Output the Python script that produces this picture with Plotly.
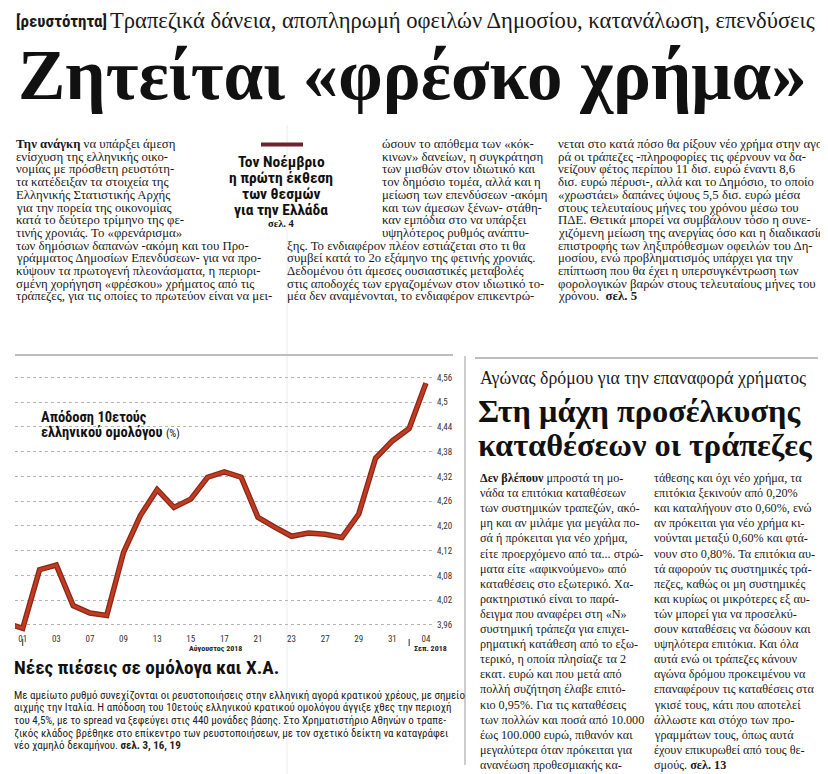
import plotly.graph_objects as go

W, H = 828, 774
OFF = 8  # the page body margin shifts the figure by this many pixels

# ---------------- chart data ----------------
dates = ["31/07", "01/08", "02/08", "03/08", "06/08", "07/08", "08/08", "09/08", "10/08",
         "13/08", "14/08", "15/08", "16/08", "17/08", "20/08", "21/08", "22/08", "23/08",
         "24/08", "27/08", "28/08", "29/08", "30/08", "31/08", "03/09", "04/09"]
yield_10y = [3.965, 3.952, 4.094, 4.105, 4.007, 3.989, 3.983, 4.136, 4.225,
             4.288, 4.245, 4.265, 4.318, 4.331, 4.318, 4.221, 4.197, 4.175,
             4.183, 4.180, 4.172, 4.229, 4.364, 4.406, 4.436, 4.546]
x_tick_dates = ["01/08", "03/08", "07/08", "09/08", "13/08", "15/08", "17/08", "21/08",
                "23/08", "27/08", "29/08", "31/08", "04/09"]
x_tick_labels = ["01", "03", "07", "09", "13", "15", "17", "21", "23", "27", "29", "31", "04"]
y_tick_values = [3.96, 4.02, 4.08, 4.14, 4.20, 4.26, 4.32, 4.38, 4.44, 4.50, 4.56]
y_tick_labels = ["3,96", "4,02", "4,08", "4,12", "4,20", "4,26", "4,32", "4,38", "4,44", "4,5", "4,56"]
month_start_dates = ["01/08", "03/09"]

chart_title = ["<b>Απόδοση 10ετούς</b>", "<b>ελληνικού ομολόγου</b> <span style='font-size:11px'>(%)</span>"]

# ---------------- page texts ----------------
kicker_tag = "[ρευστότητα]"
kicker_text = "Τραπεζικά δάνεια, αποπληρωμή οφειλών Δημοσίου, κατανάλωση, επενδύσεις"
headline = "Ζητείται «φρέσκο χρήμα»"

col1_upper = ["<b>Την ανάγκη</b> να υπάρξει άμεση",
              "ενίσχυση της ελληνικής οικο-",
              "νομίας με πρόσθετη ρευστότη-",
              "τα κατέδειξαν τα στοιχεία της",
              "Ελληνικής Στατιστικής Αρχής",
              "για την πορεία της οικονομίας",
              "κατά το δεύτερο τρίμηνο της φε-",
              "τινής χρονιάς. Το «φρενάρισμα»"]
col1_wide = ["των δημόσιων δαπανών -ακόμη και του Προ-",
             "γράμματος Δημοσίων Επενδύσεων- για να προ-",
             "κύψουν τα πρωτογενή πλεονάσματα, η περιορι-",
             "σμένη χορήγηση «φρέσκου» χρήματος από τις",
             "τράπεζες, για τις οποίες το πρωτεύον είναι να μει-"]
col2_upper = ["ώσουν το απόθεμα των «κόκ-",
              "κινων» δανείων, η συγκράτηση",
              "των μισθών στον ιδιωτικό και",
              "τον δημόσιο τομέα, αλλά και η",
              "μείωση των επενδύσεων -ακόμη",
              "και των άμεσων ξένων- στάθη-",
              "καν εμπόδια στο να υπάρξει",
              "υψηλότερος ρυθμός ανάπτυ-"]
col2_wide = ["ξης. Το ενδιαφέρον πλέον εστιάζεται στο τι θα",
             "συμβεί κατά το 2ο εξάμηνο της φετινής χρονιάς.",
             "Δεδομένου ότι άμεσες ουσιαστικές μεταβολές",
             "στις αποδοχές των εργαζομένων στον ιδιωτικό το-",
             "μέα δεν αναμένονται, το ενδιαφέρον επικεντρώ-"]
col3 = ["νεται στο κατά πόσο θα ρίξουν νέο χρήμα στην αγο-",
        "ρά οι τράπεζες -πληροφορίες τις φέρνουν να δα-",
        "νείζουν φέτος περίπου 11 δισ. ευρώ έναντι 8,6",
        "δισ. ευρώ πέρυσι-, αλλά και το Δημόσιο, το οποίο",
        "«χρωστάει» δαπάνες ύψους 5,5 δισ. ευρώ μέσα",
        "στους τελευταίους μήνες του χρόνου μέσω του",
        "ΠΔΕ. Θετικά μπορεί να συμβάλουν τόσο η συνε-",
        "χιζόμενη μείωση της ανεργίας όσο και η διαδικασία",
        "επιστροφής των ληξιπρόθεσμων οφειλών του Δη-",
        "μοσίου, ενώ προβληματισμός υπάρχει για την",
        "επίπτωση που θα έχει η υπερσυγκέντρωση των",
        "φορολογικών βαρών στους τελευταίους μήνες του",
        "χρόνου.  <b>σελ. 5</b>"]
box_lines = ["Τον Νοέμβριο", "η πρώτη έκθεση", "των θεσμών", "για την Ελλάδα"]
box_ref = "σελ. 4"

right_kicker = "Αγώνας δρόμου για την επαναφορά χρήματος"
right_head = ["Στη μάχη προσέλκυσης", "καταθέσεων οι τράπεζες"]
right_colA = ["<b>Δεν βλέπουν</b> μπροστά τη μο-",
              "νάδα τα επιτόκια καταθέσεων",
              "των συστημικών τραπεζών, ακό-",
              "μη και αν μιλάμε για μεγάλα πο-",
              "σά ή πρόκειται για νέο χρήμα,",
              "είτε προερχόμενο από τα... στρώ-",
              "ματα είτε «αφικνούμενο» από",
              "καταθέσεις στο εξωτερικό. Χα-",
              "ρακτηριστικό είναι το παρά-",
              "δειγμα που αναφέρει στη «Ν»",
              "συστημική τράπεζα για επιχει-",
              "ρηματική κατάθεση από το εξω-",
              "τερικό, η οποία πλησίαζε τα 2",
              "εκατ. ευρώ και που μετά από",
              "πολλή συζήτηση έλαβε επιτό-",
              "κιο 0,95%. Για τις καταθέσεις",
              "των πολλών και ποσά από 10.000",
              "έως 100.000 ευρώ, πιθανόν και",
              "μεγαλύτερα όταν πρόκειται για",
              "ανανέωση προθεσμιακής κα-"]
right_colB = ["τάθεσης και όχι νέο χρήμα, τα",
              "επιτόκια ξεκινούν από 0,20%",
              "και καταλήγουν στο 0,60%, ενώ",
              "αν πρόκειται για νέο χρήμα κι-",
              "νούνται μεταξύ 0,60% και φτά-",
              "νουν στο 0,80%. Τα επιτόκια αυ-",
              "τά αφορούν τις συστημικές τρά-",
              "πεζες, καθώς οι μη συστημικές",
              "και κυρίως οι μικρότερες εξ αυ-",
              "τών μπορεί για να προσελκύ-",
              "σουν καταθέσεις να δώσουν και",
              "υψηλότερα επιτόκια. Και όλα",
              "αυτά ενώ οι τράπεζες κάνουν",
              "αγώνα δρόμου προκειμένου να",
              "επαναφέρουν τις καταθέσεις στα",
              "γκισέ τους, κάτι που αποτελεί",
              "άλλωστε και στόχο των προ-",
              "γραμμάτων τους, όπως αυτά",
              "έχουν επικυρωθεί από τους θε-",
              "σμούς. <b>σελ. 13</b>"]

chart_head = "Νέες πιέσεις σε ομόλογα και Χ.Α."
chart_par = ["Με αμείωτο ρυθμό συνεχίζονται οι ρευστοποιήσεις στην ελληνική αγορά κρατικού χρέους, με σημείο",
             "αιχμής την Ιταλία. Η απόδοση του 10ετούς ελληνικού κρατικού ομολόγου άγγιξε χθες την περιοχή",
             "του 4,5%, με το spread να ξεφεύγει στις 440 μονάδες βάσης. Στο Χρηματιστήριο Αθηνών ο τραπε-",
             "ζικός κλάδος βρέθηκε στο επίκεντρο των ρευστοποιήσεων, με τον σχετικό δείκτη να καταγράφει",
             "νέο χαμηλό δεκαμήνου. <b>σελ. 3, 16, 19</b>"]

# ---------------- styling ----------------
SANS_N = "Liberation Sans Narrow, Arial Narrow, Roboto Condensed, DejaVu Sans Condensed, Roboto, sans-serif"
SERIF = "Liberation Serif, Times New Roman, serif"
INK = "#1a1a1a"
LINE_DARK = "#8a2716"
LINE_MAIN = "#bf3b22"


def px(x):
    return (x - OFF) / W


def py(y):
    return 1 - (y - OFF) / H


annotations = []


def txt(x, y, text, size, family=SERIF, color=INK, xanchor="left"):
    annotations.append(dict(x=px(x), y=py(y), xref="paper", yref="paper", text=text,
                            showarrow=False, xanchor=xanchor, yanchor="middle",
                            font=dict(size=size, family=family, color=color), borderpad=0))


# chart geometry (plot area in page pixels)
PL, PR, PT, PB = 15, 432, 365, 632
xs = [dates.index(d) - 1 for d in dates]
tickvals = [dates.index(d) - 1 for d in x_tick_dates]

fig = go.Figure()
fig.add_trace(go.Scatter(x=xs, y=yield_10y, mode="lines",
                         line=dict(color=LINE_DARK, width=5.5), hoverinfo="skip", showlegend=False))
fig.add_trace(go.Scatter(x=xs, y=yield_10y, mode="lines",
                         line=dict(color=LINE_MAIN, width=3), showlegend=False))

fig.update_xaxes(domain=[px(PL), px(PR)], range=[-0.46, 24.36], tickmode="array",
                 tickvals=tickvals, ticktext=x_tick_labels, showgrid=False, zeroline=False,
                 showline=False, ticks="", tickfont=dict(size=9, family=SANS_N, color="#333"))
fig.update_yaxes(domain=[py(PB), py(PT)], range=[3.943, 4.590], side="right", tickmode="array",
                 tickvals=y_tick_values, ticktext=y_tick_labels, showgrid=True,
                 gridcolor="#b5b5b5", griddash="dot", gridwidth=1, zeroline=False,
                 showline=False, ticks="", ticklabelstandoff=4,
                 tickfont=dict(size=9, family=SANS_N, color="#333"))

shapes = []
# month boundary marks
for d in month_start_dates:
    xi = dates.index(d) - 1
    shapes.append(dict(type="line", xref="x", yref="paper", x0=xi, x1=xi,
                       y0=py(639), y1=py(646), line=dict(color="#333", width=1)))
# page rules
shapes += [
    dict(type="line", xref="paper", yref="paper", x0=px(287), x1=px(287), y0=py(125), y1=py(774),
         line=dict(color="#ececec", width=1), layer="below"),
    dict(type="line", xref="paper", yref="paper", x0=px(15), x1=px(453), y0=py(355), y1=py(355),
         line=dict(color="#a8a8a8", width=1.5)),
    dict(type="line", xref="paper", yref="paper", x0=px(475), x1=px(818), y0=py(358), y1=py(358),
         line=dict(color="#a8a8a8", width=1.5)),
    dict(type="line", xref="paper", yref="paper", x0=px(465), x1=px(465), y0=py(356), y1=py(765),
         line=dict(color="#9a9a9a", width=1)),
    dict(type="rect", xref="paper", yref="paper", x0=px(261), x1=px(303), y0=py(146.5), y1=py(142.5),
         fillcolor="#6e2330", line=dict(width=0)),
]

# ---- top section ----
txt(15, 21, f"<b>{kicker_tag}</b>", 17, SANS_N)
txt(109, 21, kicker_text, 22.6, SERIF)
txt(17, 75, f"<b>{headline}</b>", 71, SERIF, "#111")

Y0, DY = 144, 12.7
BS = 12.8
for i, t in enumerate(col1_upper):
    txt(15, Y0 + i * DY, t, BS, SERIF)
for i, t in enumerate(col1_wide):
    txt(15, Y0 + (i + 8) * DY, t, BS, SERIF)
for i, t in enumerate(col2_upper):
    txt(381, Y0 + i * DY, t, BS, SERIF)
for i, t in enumerate(col2_wide):
    txt(286, Y0 + (i + 8) * DY, t, BS, SERIF)
for i, t in enumerate(col3):
    txt(557, Y0 + i * DY, t, BS, SERIF)

for i, t in enumerate(box_lines):
    txt(281, 161.7 + i * 16.2, f"<b>{t}</b>", 15.5, SANS_N, "#111", "center")
txt(281, 223, f"<b>{box_ref}</b>", 10.5, SERIF, "#111", "center")

# ---- right article ----
txt(479, 378, right_kicker, 17.8, SERIF)
for i, t in enumerate(right_head):
    txt(477, 411 + i * 34, f"<b>{t}</b>", 32.4, SERIF, "#111")
for i, t in enumerate(right_colA):
    txt(479, 478 + i * 15.1, t, 12.2, SERIF)
for i, t in enumerate(right_colB):
    txt(653, 478 + i * 15.1, t, 12.2, SERIF)

# ---- chart section texts ----
txt(40, 417, chart_title[0], 14.5, SANS_N, "#111")
txt(40, 432, chart_title[1], 14.5, SANS_N, "#111")
txt(215, 648, "<b>Αύγουστος 2018</b>", 8, SANS_N, "#222", "center")
txt(413, 648, "<b>Σεπ. 2018</b>", 8, SANS_N, "#222", "left")
txt(13, 667, f"<b>{chart_head}</b>", 19.2, SANS_N, "#111")
for i, t in enumerate(chart_par):
    txt(13, 695 + i * 12.7, t, 11.0, SANS_N, "#222")

fig.update_layout(width=W, height=H, margin=dict(l=0, r=0, t=0, b=0),
                  paper_bgcolor="white", plot_bgcolor="white",
                  annotations=annotations, shapes=shapes, showlegend=False)

fig.write_html("out.html")
